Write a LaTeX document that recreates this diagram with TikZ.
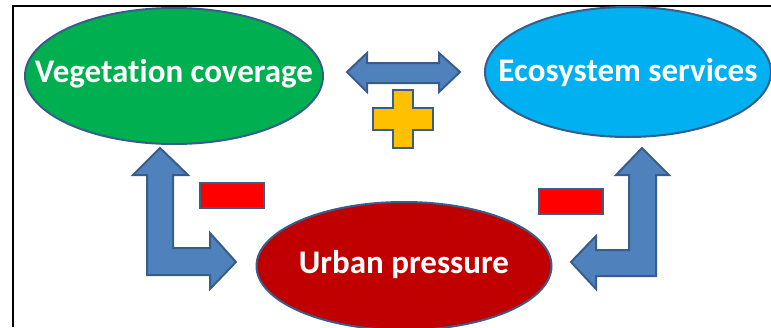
\documentclass[tikz,border=0pt]{standalone}
\usepackage{fontspec}
\setmainfont[Ligatures={NoCommon}]{Carlito}
\usetikzlibrary{shapes.geometric}

\definecolor{vegGreen}{HTML}{00B050}
\definecolor{ecoBlue}{HTML}{00B0F0}
\definecolor{urbanRed}{HTML}{C00000}
\definecolor{arrowBlue}{HTML}{4F81BD}
\definecolor{edgeBlue}{HTML}{385D8A}
\definecolor{plusYellow}{HTML}{FFC000}

\begin{document}
\begin{tikzpicture}[x=1pt,y=-1pt,
    bubble/.style={ellipse,draw=edgeBlue,line width=2pt,inner sep=0pt},
    bubbletext/.style={text=white,font=\fontsize{33}{40}\selectfont\bfseries},
    fatarrow/.style={fill=arrowBlue,draw=edgeBlue,line width=2pt},
    sign/.style={draw=edgeBlue,line width=2pt}]

                \useasboundingbox (0,0) rectangle (771,327);

                % Frame
                \draw [line width=1.5pt] (13,327) -- (13,6) -- (771,6);

                % Ellipses
                \node [bubble,fill=vegGreen,minimum width=298pt,minimum height=136pt] (veg) at (174,76) {};
                \node [bubble,fill=ecoBlue,minimum width=286pt,minimum height=130pt] (eco) at (628,72) {};
                \node [bubble,fill=urbanRed,minimum width=295pt,minimum height=128pt] (urban) at (404,266) {};

                % Labels
                \node [bubbletext] (vegtext) at ([yshift=2pt]veg.center) {Vegetation coverage};
                \node [bubbletext] (ecotext) at ([yshift=-1pt]eco.center) {Ecosystem services};
                \node [bubbletext] (urbantext) at ([yshift=1pt]urban.center) {Urban pressure};

                % Double arrow between vegetation and ecosystem
                \draw [fatarrow] (347,72) -- (367,53) -- (367,63) -- (439,63) -- (439,53) -- (460,72)
                    -- (439,92) -- (439,83) -- (367,83) -- (367,92) -- cycle;

                % Plus
                \draw [sign,fill=plusYellow] (393,90) -- (413,90) -- (413,108) -- (433,108) -- (433,130)
                    -- (413,130) -- (413,148) -- (393,148) -- (393,130) -- (373,130) -- (373,108) -- (393,108) -- cycle;

                % Bent arrow left
                \draw [fatarrow] (160,148) -- (188,175) -- (173,175) -- (173,248) -- (210,248) -- (210,233)
                    -- (236,262) -- (210,289) -- (210,275) -- (147,275) -- (147,175) -- (133,175) -- cycle;

                % Bent arrow right
                \draw [fatarrow] (642,148) -- (669,175) -- (656,175) -- (656,276) -- (596,276) -- (596,289)
                    -- (571,262) -- (596,236) -- (596,250) -- (629,250) -- (629,175) -- (616,175) -- cycle;

                % Minus signs
                \draw [sign,fill=red] (200,183) rectangle (264,208);
                \draw [sign,fill=red] (539,189) rectangle (603,214);

\end{tikzpicture}
\end{document}
